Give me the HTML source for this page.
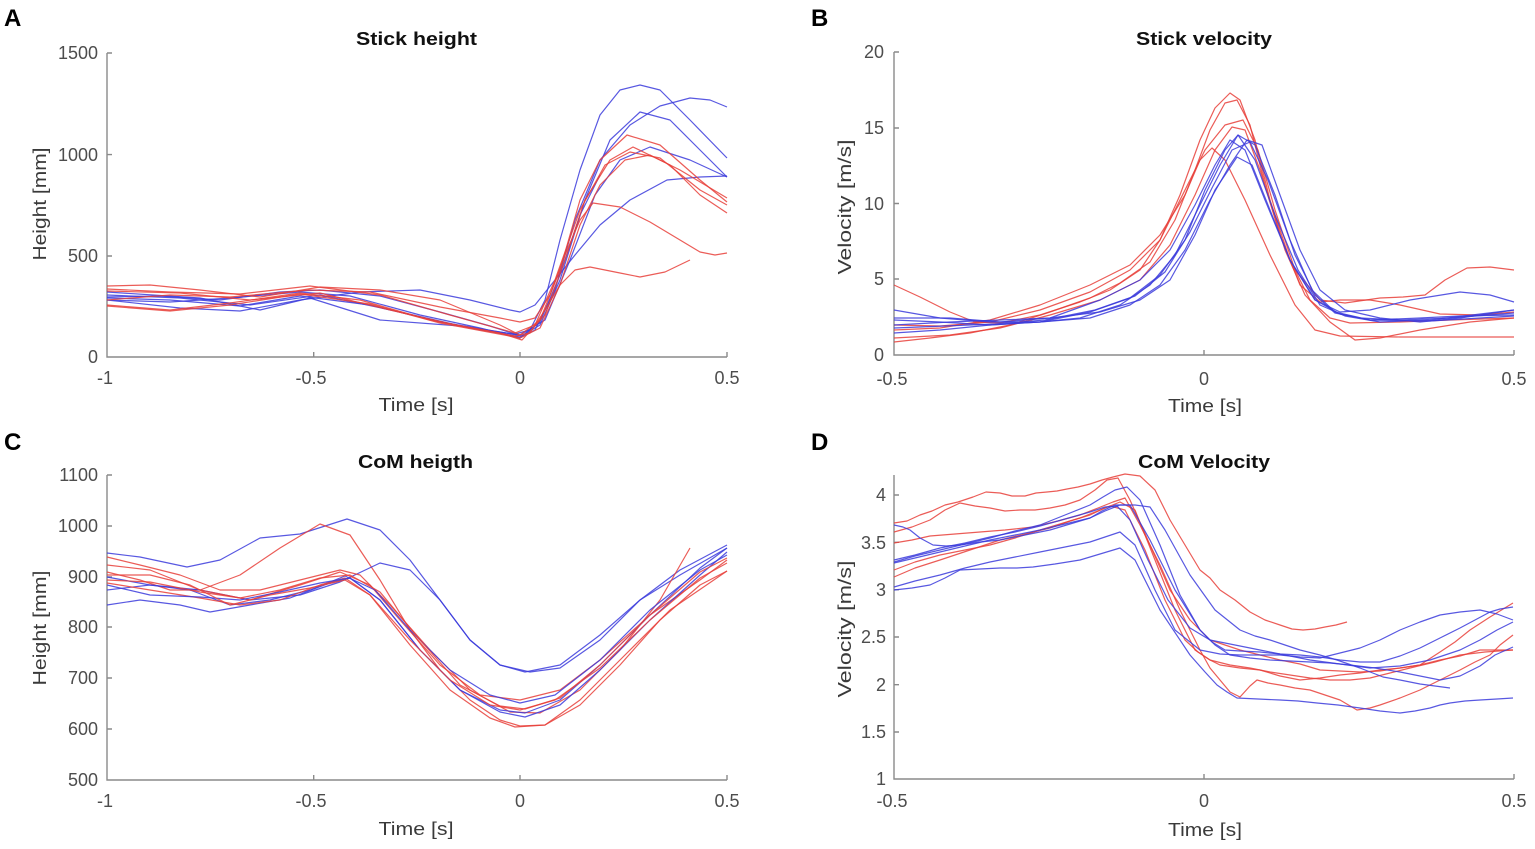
<!DOCTYPE html>
<html><head><meta charset="utf-8"><style>
html,body{margin:0;padding:0;background:#fff;}
svg{display:block;}
text{font-family:"Liberation Sans",Arial,sans-serif;}
.tl{font-size:18px;fill:#4d4d4d;}
.al{font-size:18px;fill:#3a3a3a;}
.tt{font-size:18px;font-weight:bold;fill:#111;}
.pl{font-size:24px;font-weight:bold;fill:#000;}
.ax{stroke:#8a8a8a;stroke-width:1.4;fill:none;}
.r{fill:none;stroke:#e8403a;stroke-width:1.2;stroke-opacity:.85;stroke-linejoin:round;}
.b{fill:none;stroke:#3b3bdc;stroke-width:1.2;stroke-opacity:.85;stroke-linejoin:round;}
</style></head><body>
<svg width="1535" height="849" viewBox="0 0 1535 849" xmlns="http://www.w3.org/2000/svg">
<rect width="1535" height="849" fill="#fff"/>

<!-- Panel letters -->
<text class="pl" x="4" y="26">A</text>
<text class="pl" x="811" y="26">B</text>
<text class="pl" x="4" y="450">C</text>
<text class="pl" x="811" y="450">D</text>

<!-- ============ PANEL A ============ -->
<text class="tt" x="356" y="45" textLength="121" lengthAdjust="spacingAndGlyphs">Stick height</text>
<path class="ax" d="M107,53 V357 H727"/>
<path class="ax" d="M107,53 h5 M107,154.6 h5 M107,256 h5 M313.7,357 v-5 M520,357 v-5 M727,357 v-5"/>
<g class="tl" text-anchor="end">
<text x="98" y="59">1500</text><text x="98" y="161">1000</text><text x="98" y="262">500</text><text x="98" y="363">0</text>
</g>
<g class="tl" text-anchor="middle">
<text x="105" y="384">-1</text><text x="311" y="384">-0.5</text><text x="520" y="384">0</text><text x="727" y="384">0.5</text>
</g>
<text class="al" x="416" y="411" text-anchor="middle" textLength="75" lengthAdjust="spacingAndGlyphs">Time [s]</text>
<text class="al" transform="translate(46,204) rotate(-90)" text-anchor="middle" textLength="113" lengthAdjust="spacingAndGlyphs">Height [mm]</text>

<polyline class="b" points="107,297 160,296 220,300 280,292 320,290 380,296 440,312 490,326 515,334 530,330 545,300 560,240 580,170 600,115 620,90 640,85 660,90 690,120 727,158"/>
<polyline class="b" points="107,300 170,302 230,298 300,292 350,296 420,315 480,328 520,338 535,330 555,290 575,220 600,160 630,125 660,106 690,98 710,100 727,107"/>
<polyline class="b" points="107,295 180,298 250,305 320,295 400,312 470,328 520,337 540,325 560,280 585,200 610,140 640,112 670,120 700,150 727,177"/>
<polyline class="b" points="107,292 200,298 260,310 310,298 380,320 460,326 520,335 545,320 570,260 595,195 620,160 650,147 690,160 727,177"/>
<polyline class="b" points="107,300 180,308 240,311 300,300 360,292 420,290 470,300 510,310 520,312 535,305 555,280 575,255 600,225 630,200 667,180 700,177 727,176"/>
<polyline class="b" points="107,298 170,300 240,306 300,296 370,305 440,322 500,332 522,336 540,322 560,275 580,215 600,175"/>
<polyline class="r" points="107,286 150,285 200,290 260,297 320,287 380,290 440,300 500,325 520,335 540,320 560,270 580,200 600,160 627,135 660,145 700,180 727,202"/>
<polyline class="r" points="107,305 170,310 230,303 300,293 360,300 430,320 500,333 522,340 545,315 565,260 585,200 610,160 633,147 670,165 700,195 727,213"/>
<polyline class="r" points="107,300 170,295 230,297 310,290 370,292 440,307 500,318 520,322 535,318 550,295 565,255 580,220 593,203 620,207 650,222 680,240 700,252 715,255 727,253"/>
<polyline class="r" points="107,291 180,293 250,300 320,293 390,310 460,326 515,336 530,333 545,310 560,285 575,270 590,267 620,273 640,277 665,272 690,260"/>
<polyline class="r" points="107,289 170,292 240,294 310,286 380,295 450,315 515,333 535,325 555,280 580,210 605,165 630,152 660,158 700,190 727,205"/>
<polyline class="r" points="107,306 170,311 230,305 300,294 370,304 440,323 520,338 540,328 560,285 580,225 600,185 625,160 650,155 680,170 727,198"/>

<!-- ============ PANEL B ============ -->
<text class="tt" x="1136" y="45" textLength="136" lengthAdjust="spacingAndGlyphs">Stick velocity</text>
<path class="ax" d="M894,52 V355 H1514"/>
<path class="ax" d="M894,52 h5 M894,128 h5 M894,203.5 h5 M894,279 h5 M1204,355 v-5 M1514,355 v-5"/>
<g class="tl" text-anchor="end">
<text x="884" y="58">20</text><text x="884" y="134">15</text><text x="884" y="210">10</text><text x="884" y="285">5</text><text x="884" y="361">0</text>
</g>
<g class="tl" text-anchor="middle">
<text x="892" y="385">-0.5</text><text x="1204" y="385">0</text><text x="1514" y="385">0.5</text>
</g>
<text class="al" x="1205" y="412" text-anchor="middle" textLength="74" lengthAdjust="spacingAndGlyphs">Time [s]</text>
<text class="al" transform="translate(851,207) rotate(-90)" text-anchor="middle" textLength="135" lengthAdjust="spacingAndGlyphs">Velocity [m/s]</text>

<polyline class="r" points="894,285 920,297 950,312 975,322 1000,323 1040,315 1080,302 1110,290 1140,270 1160,240 1180,195 1200,140 1215,108 1230,93 1240,100 1255,140 1270,200 1290,260 1310,300 1330,318 1350,323 1400,322 1450,320 1514,318"/>
<polyline class="r" points="894,342 930,338 970,333 1010,325 1050,312 1090,298 1120,283 1150,262 1175,220 1195,170 1210,130 1225,103 1237,100 1250,125 1265,185 1285,250 1305,295 1330,322 1355,340 1380,338 1420,330 1470,322 1514,318"/>
<polyline class="r" points="894,330 940,328 990,320 1040,305 1090,285 1130,265 1160,235 1185,195 1200,160 1212,148 1225,160 1245,200 1270,255 1295,305 1315,330 1340,336 1400,337 1514,337"/>
<polyline class="r" points="894,325 940,326 990,322 1040,310 1090,292 1130,270 1160,240 1185,190 1205,150 1225,125 1243,120 1258,150 1275,210 1295,270 1320,300 1345,303 1380,298 1403,297 1425,295 1445,280 1467,268 1490,267 1514,270"/>
<polyline class="r" points="894,338 950,335 1000,328 1050,315 1100,300 1140,280 1170,245 1195,195 1215,150 1232,127 1245,130 1260,170 1280,235 1300,285 1320,302 1340,300 1370,300 1400,305 1440,314 1480,315 1514,312"/>
<polyline class="b" points="894,310 940,318 990,322 1040,322 1080,318 1120,305 1150,285 1175,255 1200,205 1220,165 1238,135 1255,145 1275,195 1295,255 1315,295 1335,313 1360,318 1400,320 1450,318 1514,313"/>
<polyline class="b" points="894,333 940,330 990,325 1040,322 1090,318 1130,305 1160,285 1185,250 1210,200 1230,165 1247,140 1262,145 1280,195 1300,250 1320,290 1345,310 1380,318 1420,322 1460,318 1514,310"/>
<polyline class="b" points="894,325 950,322 1000,320 1050,318 1100,312 1140,300 1170,280 1195,235 1215,190 1237,157 1252,165 1270,210 1290,260 1315,300 1340,314 1370,320 1420,318 1460,316 1514,315"/>
<polyline class="b" points="894,318 950,318 1000,322 1050,318 1100,300 1140,280 1170,250 1195,205 1215,165 1230,140 1245,150 1265,200 1290,260 1315,300 1340,312 1370,310 1410,300 1460,292 1490,295 1514,302"/>
<polyline class="b" points="894,320 940,322 990,325 1040,322 1090,312 1130,298 1160,275 1185,240 1205,190 1225,150 1238,135 1255,160 1275,215 1298,270 1320,305 1345,316 1380,322 1430,320 1514,310"/>
<polyline class="b" points="894,328 945,326 995,324 1045,320 1095,310 1135,296 1165,272 1190,232 1212,188 1232,150 1250,142 1268,180 1290,240 1312,290 1335,312 1370,320 1430,321 1514,316"/>

<!-- ============ PANEL C ============ -->
<text class="tt" x="358" y="468" textLength="115" lengthAdjust="spacingAndGlyphs">CoM heigth</text>
<path class="ax" d="M107,475 V780 H727"/>
<path class="ax" d="M107,475 h5 M107,526 h5 M107,577 h5 M107,627 h5 M107,678 h5 M107,729 h5 M313.7,780 v-5 M520,780 v-5 M727,780 v-5"/>
<g class="tl" text-anchor="end">
<text x="98" y="481">1100</text><text x="98" y="532">1000</text><text x="98" y="583">900</text><text x="98" y="633">800</text><text x="98" y="684">700</text><text x="98" y="735">600</text><text x="98" y="786">500</text>
</g>
<g class="tl" text-anchor="middle">
<text x="105" y="807">-1</text><text x="311" y="807">-0.5</text><text x="520" y="807">0</text><text x="727" y="807">0.5</text>
</g>
<text class="al" x="416" y="835" text-anchor="middle" textLength="75" lengthAdjust="spacingAndGlyphs">Time [s]</text>
<text class="al" transform="translate(46,628) rotate(-90)" text-anchor="middle" textLength="115" lengthAdjust="spacingAndGlyphs">Height [mm]</text>

<polyline class="b" points="107,553 140,557 187,567 220,560 260,538 300,534 347,519 380,530 410,560 440,600 470,640 500,665 530,672 560,668 600,640 640,600 680,570 727,545"/>
<polyline class="r" points="107,572 140,580 170,590 200,590 240,575 280,548 320,524 350,535 380,580 410,630 440,670 470,700 500,720 520,726 545,725 580,705 620,665 660,620 700,585 727,571"/>
<polyline class="b" points="107,577 150,585 200,590 250,600 300,595 340,582 380,563 410,570 440,600 470,640 500,665 525,672 560,665 600,635 640,600 680,575 727,548"/>
<polyline class="r" points="107,557 140,565 180,575 220,590 260,590 300,580 340,570 360,575 390,605 430,650 470,690 510,712 540,713 580,690 620,650 660,600 690,548"/>
<polyline class="r" points="107,565 150,570 200,590 250,600 300,585 340,572 370,585 400,620 440,665 480,695 520,700 560,690 600,660 650,615 700,580 727,560"/>
<polyline class="b" points="107,590 150,585 190,590 230,605 270,600 310,590 345,576 375,590 410,630 450,670 490,695 520,703 555,695 600,660 650,610 700,570 727,555"/>
<polyline class="b" points="107,605 140,600 180,605 210,612 250,605 290,598 330,583 350,578 380,600 420,650 460,690 500,712 525,717 560,705 600,670 650,620 700,575 727,552"/>
<polyline class="r" points="107,583 150,590 200,598 240,605 280,600 320,585 345,578 370,595 410,645 450,690 490,718 515,727 545,725 580,700 620,660 670,610 727,571"/>
<polyline class="b" points="107,585 150,595 200,597 240,600 280,592 320,583 350,578 380,600 420,650 460,690 500,710 525,713 560,700 600,665 650,615 700,568 727,548"/>
<polyline class="r" points="107,575 150,575 190,585 230,605 270,595 310,588 345,580 370,595 410,640 450,680 490,705 520,710 555,700 600,668 650,620 700,578 727,563"/>
<polyline class="r" points="107,580 150,582 200,592 240,598 280,590 320,578 350,575 380,592 420,640 460,685 500,706 525,709 560,698 600,665 650,615 700,572 727,558"/>

<!-- ============ PANEL D ============ -->
<text class="tt" x="1138" y="468" textLength="132" lengthAdjust="spacingAndGlyphs">CoM Velocity</text>
<path class="ax" d="M894,475 V779 H1514"/>
<path class="ax" d="M894,495 h5 M894,542.3 h5 M894,589.7 h5 M894,637 h5 M894,684.7 h5 M894,732 h5 M1204,779 v-5 M1514,779 v-5"/>
<g class="tl" text-anchor="end">
<text x="886" y="501">4</text><text x="886" y="549">3.5</text><text x="886" y="596">3</text><text x="886" y="643">2.5</text><text x="886" y="691">2</text><text x="886" y="738">1.5</text><text x="886" y="785">1</text>
</g>
<g class="tl" text-anchor="middle">
<text x="892" y="807">-0.5</text><text x="1204" y="807">0</text><text x="1514" y="807">0.5</text>
</g>
<text class="al" x="1205" y="836" text-anchor="middle" textLength="74" lengthAdjust="spacingAndGlyphs">Time [s]</text>
<text class="al" transform="translate(851,629) rotate(-90)" text-anchor="middle" textLength="137" lengthAdjust="spacingAndGlyphs">Velocity [m/s]</text>

<polyline class="r" points="894,523 907,521 920,515 932,511 945,505 958,502 973,497 986,492 1000,493 1012,496 1025,496 1036,493 1047,492 1057,491 1067,489 1078,487 1090,484 1102,480 1113,477 1125,474 1140,476 1155,490 1170,520 1185,545 1200,570 1210,578 1220,590 1235,600 1250,612 1265,620 1280,625 1292,629 1303,630 1315,629 1325,627 1336,625 1347,622"/>
<polyline class="r" points="894,532 912,527 930,520 945,510 960,503 975,506 990,508 1005,511 1020,510 1035,510 1050,508 1065,505 1080,500 1095,490 1107,480 1118,478 1130,500 1150,545 1170,590 1190,620 1210,640 1225,645 1240,650 1260,655 1280,660 1300,664 1320,670 1340,671 1360,672 1380,671 1400,668 1420,665 1440,660 1460,656 1480,650 1498,650 1513,650"/>
<polyline class="r" points="894,543 912,540 930,536 955,534 980,532 1005,530 1033,527 1058,521 1080,515 1098,508 1113,502 1125,498 1140,525 1160,565 1180,610 1200,650 1210,668 1220,680 1230,692 1240,697 1250,686 1257,680 1268,683 1280,685 1295,688 1310,690 1325,695 1340,700 1357,710 1370,708 1380,705 1400,698 1420,690 1440,680 1460,670 1475,662 1490,655 1500,645 1513,635"/>
<polyline class="r" points="894,577 915,568 940,560 970,550 1000,540 1025,534 1050,528 1070,521 1090,515 1105,508 1120,502 1135,510 1155,560 1175,610 1195,650 1210,660 1220,665 1240,668 1260,670 1280,676 1300,680 1320,678 1340,675 1360,673 1380,670 1400,668 1420,665 1440,652 1455,642 1470,630 1490,617 1513,603"/>
<polyline class="r" points="894,570 915,562 940,555 965,550 990,545 1015,538 1040,530 1060,524 1080,518 1095,512 1110,506 1125,510 1145,550 1165,600 1185,640 1198,652 1210,660 1230,665 1250,668 1270,672 1290,675 1310,678 1330,680 1350,680 1370,678 1390,673 1410,668 1435,662 1460,655 1485,652 1513,650"/>
<polyline class="b" points="894,562 915,556 940,550 965,544 990,538 1015,531 1040,525 1065,515 1090,505 1103,497 1115,490 1127,487 1140,500 1160,545 1180,595 1200,630 1212,642 1225,650 1240,651 1260,652 1280,654 1300,655 1320,657 1340,660 1360,662 1380,662 1400,656 1420,648 1440,638 1460,628 1475,620 1490,612 1500,609 1513,607"/>
<polyline class="b" points="894,525 903,527 910,530 920,538 933,545 946,546 960,545 980,542 1000,540 1025,535 1050,530 1070,524 1090,518 1102,511 1115,505 1130,505 1150,540 1175,590 1200,630 1215,645 1230,655 1250,658 1270,660 1290,661 1310,662 1330,663 1350,665 1375,668 1400,672 1420,676 1440,680 1460,676 1480,666 1495,655 1513,647"/>
<polyline class="b" points="894,563 915,558 940,552 965,546 990,540 1015,535 1040,530 1065,524 1090,518 1105,511 1120,505 1135,505 1150,507 1165,530 1190,575 1215,610 1240,630 1255,636 1270,640 1285,645 1300,650 1320,655 1337,660 1360,668 1383,677 1400,680 1420,684 1435,686 1450,688"/>
<polyline class="b" points="894,587 915,581 940,575 965,568 990,562 1015,557 1040,552 1065,547 1090,542 1105,537 1120,532 1135,545 1155,590 1175,630 1200,650 1220,654 1240,655 1260,655 1280,655 1300,657 1320,658 1340,653 1360,648 1380,640 1400,630 1420,622 1440,615 1460,612 1480,610 1497,614 1513,620"/>
<polyline class="b" points="894,590 912,588 930,585 945,578 960,570 980,569 1000,568 1017,568 1033,567 1055,564 1080,560 1100,554 1120,548 1135,560 1160,610 1190,655 1205,672 1217,685 1227,692 1237,698 1258,699 1280,700 1298,701 1317,703 1338,705 1360,708 1380,711 1400,713 1415,711 1430,708 1440,705 1450,703 1465,701 1480,700 1497,699 1513,698"/>
<polyline class="b" points="894,560 915,555 940,548 965,543 990,537 1015,532 1040,526 1065,519 1090,512 1105,507 1117,506 1130,520 1148,560 1168,600 1190,628 1210,640 1235,645 1260,650 1285,655 1310,660 1340,664 1370,668 1400,666 1430,660 1460,650 1480,640 1497,630 1513,622"/>
</svg>
</body></html>
